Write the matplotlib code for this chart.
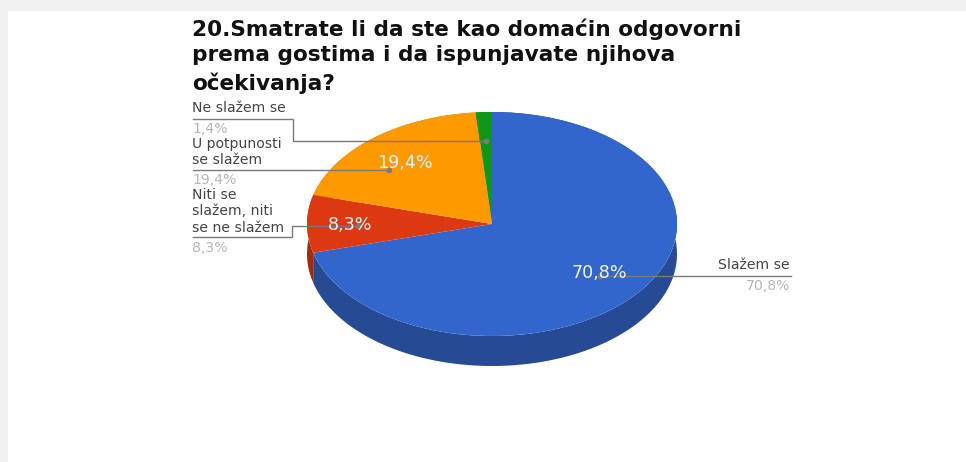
import matplotlib
matplotlib.use("Agg")
import matplotlib.pyplot as plt
from matplotlib.patches import Rectangle
import numpy as np

plt.rcParams['font.family'] = ['DejaVu Sans']

W, H = 966, 462

title = ["20.Smatrate li da ste kao domaćin odgovorni",
         "prema gostima i da ispunjavate njihova",
         "očekivanja?"]
categories = ["Slažem se", "Niti se\nslažem, niti\nse ne slažem", "U potpunosti\nse slažem", "Ne slažem se"]
values = [70.8, 8.3, 19.4, 1.4]
colors = ["#3366cc", "#dc3912", "#ff9900", "#109618"]
side_colors = ["#264a94", "#a32a0d", "#bf7300", "#0c7012"]

def pct(v):
    return ("%.1f%%" % v).replace(".", ",")

fig = plt.figure(figsize=(W / 100, H / 100), dpi=100, facecolor="#f1f1f1")

# page background, pixel coords
bg = fig.add_axes([0, 0, 1, 1])
bg.set_xlim(0, W)
bg.set_ylim(H, 0)
bg.axis("off")
bg.add_patch(Rectangle((8, 11), W - 8, H - 11, fc="white", ec="none"))

# pie axes, squashed so the circle becomes the ellipse
cx, cy, rx, ry, depth = 492, 224, 185, 112, 30
pie_ax = fig.add_axes([(cx - rx) / W, 1 - (cy + ry + depth) / H, 2 * rx / W, (2 * ry + depth) / H])
pie_ax.patch.set_alpha(0)
d = depth / ry

edges = np.cumsum([0] + values) / sum(values) * 2 * np.pi
for i in range(len(values)):
    t = np.linspace(edges[i], edges[i + 1], 200)
    x, y = np.sin(t), np.cos(t)
    pie_ax.fill(np.r_[x, x[::-1]], np.r_[y, y[::-1] - d], color=side_colors[i], lw=0, zorder=1)
pie_ax.pie(values, colors=colors, startangle=90, counterclock=False, radius=1,
           wedgeprops={"lw": 0, "zorder": 2})
pie_ax.set_aspect("auto")
pie_ax.set_xlim(-1, 1)
pie_ax.set_ylim(-1 - d, 1)
pie_ax.axis("off")

# texts and leader lines go on top
top = fig.add_axes([0, 0, 1, 1])
top.set_xlim(0, W)
top.set_ylim(H, 0)
top.axis("off")
top.patch.set_alpha(0)

for line, y in zip(title, [29, 55, 83]):
    top.text(192, y, line, fontsize=15.55, fontweight="bold", color="#111111", va="center", ha="left")

label_x = [790, 192, 192, 192]
label_y = [[265], [195, 211, 228], [144, 160], [108]]
pct_y = [286, 248, 180, 129]
# last point of each leader is the end inside the pie
leaders = [([791, 600], [276, 276]),
           ([193, 292, 292, 358], [237, 237, 226, 226]),
           ([193, 389], [170, 170]),
           ([193, 293, 293, 486], [119, 119, 141, 141])]
inner_x = [599, 350, 405, None]
inner_y = [273, 225, 163, None]

for i, cat in enumerate(categories):
    ha = "right" if i == 0 else "left"
    for line, y in zip(cat.split("\n"), label_y[i]):
        top.text(label_x[i], y, line, fontsize=10.1, color="#444444", va="center", ha=ha)
    top.text(label_x[i], pct_y[i], pct(values[i]), fontsize=10.1, color="#b5b5b5", va="center", ha=ha)
    lx, ly = leaders[i]
    top.plot(lx, ly, color="#7a7a7a", lw=1, solid_joinstyle="miter", zorder=3)
    top.plot(lx[-1], ly[-1], "o", color="#7a7a7a", ms=3, zorder=3)
    if inner_x[i] is not None:
        top.text(inner_x[i], inner_y[i], pct(values[i]), fontsize=12.6, color="#f4f4f4",
                 va="center", ha="center", zorder=4)

fig.savefig("out.png", dpi=100, facecolor=fig.get_facecolor())
